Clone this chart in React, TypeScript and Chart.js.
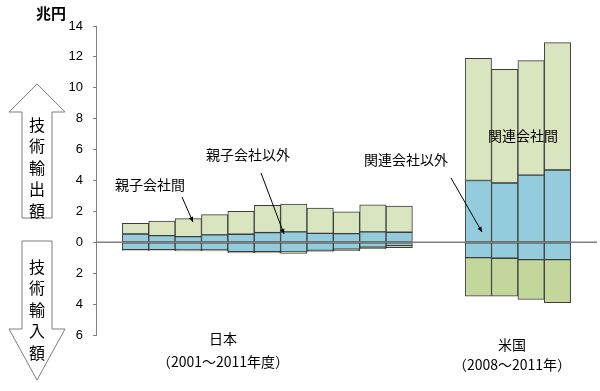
import React, { useEffect, useRef } from "react";
import { Chart, registerables } from "chart.js";

Chart.register(...registerables);

// Japan fiscal years 2001-2011, US years 2008-2011
const jpYears = ["2001", "2002", "2003", "2004", "2005", "2006", "2007", "2008", "2009", "2010", "2011"];
const usYears = ["2008", "2009", "2010", "2011"];

// Exports (trillion yen) — blue: non-parent/subsidiary, light green: parent/subsidiary
const jpExportOther = [0.54, 0.43, 0.37, 0.48, 0.52, 0.63, 0.67, 0.58, 0.56, 0.67, 0.65];
const jpExportIntra = [0.69, 0.95, 1.16, 1.31, 1.48, 1.76, 1.81, 1.64, 1.42, 1.75, 1.7];
// Imports (negative)
const jpImportOther = [-0.48, -0.48, -0.5, -0.5, -0.6, -0.6, -0.62, -0.52, -0.44, -0.32, -0.22];
const jpImportIntra = [-0.05, -0.05, -0.06, -0.06, -0.08, -0.08, -0.1, -0.07, -0.1, -0.1, -0.12];

const usExportOther = [4.0, 3.84, 4.35, 4.68];
const usExportIntra = [7.91, 7.36, 7.41, 8.24];
const usImportOther = [-0.99, -1.03, -1.12, -1.12];
const usImportIntra = [-2.5, -2.46, -2.58, -2.79];

const yTicksMin = -6;
const yTicksMax = 14;
const yStep = 2;

const pad = (jp: (number | null)[], us: (number | null)[]) => [null, ...jp, null, null, ...us, null];
const labels = pad(jpYears as any, usYears as any).map((v) => (v === null ? "" : v));

const BLUE = "#93cddd";
const LGREEN = "#d9e5bf";
const DGREEN = "#c3d69b";
const BORDER = "#3c3c3c";

const JP_FONT = '"Noto Sans CJK JP", "Noto Sans", sans-serif';

function drawBigArrow(ctx: CanvasRenderingContext2D, up: boolean, chars: string, xL: number, xR: number, sL: number, sR: number, tipY: number, headY: number, endY: number, textY0: number) {
  const cx = (xL + xR) / 2;
  ctx.save();
  ctx.beginPath();
  ctx.moveTo(cx, tipY);
  ctx.lineTo(xR, headY);
  ctx.lineTo(sR, headY);
  ctx.lineTo(sR, endY);
  ctx.lineTo(sL, endY);
  ctx.lineTo(sL, headY);
  ctx.lineTo(xL, headY);
  ctx.closePath();
  ctx.fillStyle = "#ffffff";
  ctx.fill();
  ctx.strokeStyle = "#7f7f7f";
  ctx.lineWidth = 1;
  ctx.stroke();
  ctx.fillStyle = "#000";
  ctx.font = `16px ${JP_FONT}`;
  ctx.textAlign = "center";
  ctx.textBaseline = "middle";
  Array.from(chars).forEach((c, i) => ctx.fillText(c, cx, textY0 + i * 21.6));
  ctx.restore();
}

function pointer(ctx: CanvasRenderingContext2D, x1: number, y1: number, x2: number, y2: number) {
  ctx.save();
  ctx.strokeStyle = "#000";
  ctx.fillStyle = "#000";
  ctx.lineWidth = 1;
  ctx.beginPath();
  ctx.moveTo(x1, y1);
  ctx.lineTo(x2, y2);
  ctx.stroke();
  const a = Math.atan2(y2 - y1, x2 - x1);
  const L = 5, W = 2.2;
  ctx.beginPath();
  ctx.moveTo(x2, y2);
  ctx.lineTo(x2 - L * Math.cos(a) + W * Math.sin(a), y2 - L * Math.sin(a) - W * Math.cos(a));
  ctx.lineTo(x2 - L * Math.cos(a) - W * Math.sin(a), y2 - L * Math.sin(a) + W * Math.cos(a));
  ctx.closePath();
  ctx.fill();
  ctx.restore();
}

const overlayPlugin = {
  id: "overlay",
  afterDatasetsDraw(chart: any) {
    const { ctx, chartArea, scales } = chart;
    const y0 = scales.y.getPixelForValue(0);
    ctx.save();
    ctx.strokeStyle = "#808080";
    ctx.lineWidth = 1.5;
    ctx.beginPath();
    ctx.moveTo(chartArea.left, y0);
    ctx.lineTo(chartArea.right, y0);
    ctx.stroke();
    ctx.restore();
  },
  afterDraw(chart: any) {
    const { ctx } = chart;
    ctx.save();
    // unit
    ctx.fillStyle = "#000";
    ctx.font = `bold 15px ${JP_FONT}`;
    ctx.textAlign = "center";
    ctx.textBaseline = "middle";
    ctx.fillText("兆円", 51, 13);

    drawBigArrow(ctx, true, "技術輸出額", 9, 65, 22, 52, 84, 112, 218, 124.5);
    drawBigArrow(ctx, false, "技術輸入額", 9, 65, 22, 52, 380, 329, 241, 266.5);

    ctx.fillStyle = "#000";
    ctx.font = `14px ${JP_FONT}`;
    ctx.textAlign = "center";
    ctx.textBaseline = "middle";
    ctx.fillText("親子会社間", 150, 185);
    ctx.fillText("親子会社以外", 248, 155);
    ctx.fillText("関連会社以外", 406, 160);
    ctx.fillText("関連会社間", 523, 136);

    ctx.fillText("日本", 223, 339);
    ctx.fillText("（2001～2011年度）", 223, 362);
    ctx.fillText("米国", 512, 345);
    ctx.fillText("（2008～2011年）", 512, 365);
    ctx.restore();

    pointer(ctx, 182, 197, 193, 222);
    pointer(ctx, 261, 173, 284, 234);
    pointer(ctx, 451, 178, 482, 232);
  },
};

export default function App() {
  const ref = useRef<HTMLCanvasElement>(null);
  useEffect(() => {
    document.body.style.margin = "0";
    const chart = new Chart(ref.current!, {
      type: "bar",
      data: {
        labels,
        datasets: [
          { label: "exportOther", data: pad(jpExportOther, usExportOther), backgroundColor: BLUE },
          { label: "exportIntra", data: pad(jpExportIntra, usExportIntra), backgroundColor: LGREEN },
          { label: "importOther", data: pad(jpImportOther, usImportOther), backgroundColor: BLUE },
          { label: "importIntra", data: pad(jpImportIntra, usImportIntra), backgroundColor: DGREEN },
        ].map((d) => ({
          ...d,
          borderColor: BORDER,
          borderWidth: 1,
          borderSkipped: false as any,
          categoryPercentage: 1,
          barPercentage: 1,
        })) as any,
      },
      options: {
        animation: false,
        responsive: false,
        maintainAspectRatio: false,
        layout: { padding: { left: 0, right: 3, top: 26, bottom: 56 } },
        plugins: { legend: { display: false }, tooltip: { enabled: false } },
        scales: {
          x: { display: false, stacked: true },
          y: {
            stacked: true,
            min: yTicksMin,
            max: yTicksMax,
            ticks: {
              stepSize: yStep,
              callback: (v: any) => String(Math.abs(Number(v))),
              font: { size: 13, family: '"Liberation Sans", Arial, sans-serif' },
              color: "#000",
              padding: 10,
            },
            grid: { drawOnChartArea: false, drawTicks: true, tickLength: 3, color: "#808080" },
            border: { color: "#808080", width: 1 },
            afterFit: (s: any) => {
              s.width = 96;
            },
          },
        },
      },
      plugins: [overlayPlugin],
    });
    return () => chart.destroy();
  }, []);
  return (
    <div style={{ width: 600, height: 391 }}>
      <canvas ref={ref} width={600} height={391} style={{ width: 600, height: 391, display: "block" }} />
    </div>
  );
}
